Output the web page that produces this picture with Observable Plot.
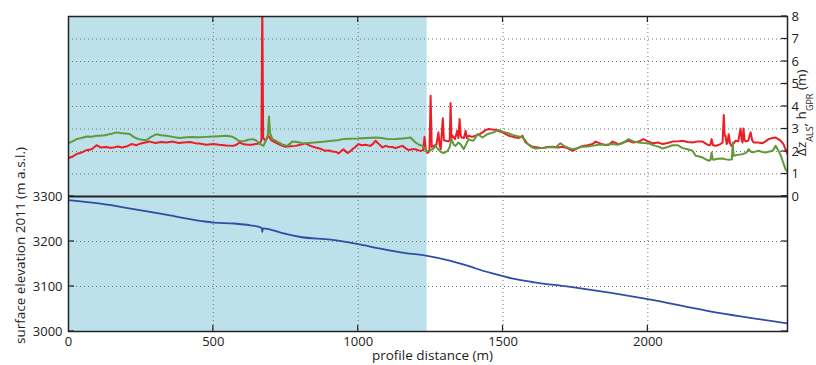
<!DOCTYPE html>
<html>
<head>
<meta charset="utf-8">
<script src="https://cdn.jsdelivr.net/npm/d3@7"></script>
<script src="https://cdn.jsdelivr.net/npm/@observablehq/plot@0.6"></script>
<style>
  body { margin: 0; background: #fff; }
  svg { font-family: "Open Sans", sans-serif; }
</style>
</head>
<body>
<div id="chart"></div>
<script>
// Axis ticks
const distanceTicks = [0, 500, 1000, 1500, 2000];
const thicknessTicks = [0, 1, 2, 3, 4, 5, 6, 7, 8];
const elevationTicks = [3000, 3100, 3200, 3300];

// Profile extent and the shaded section (m)
const profileEnd = 2482;
const shadedSection = [0, 1238];

// Δz_ALS along the profile: [distance (m), value (m)]
const dzALS = [
  [0,1.71],[15,1.78],[30,1.9],[45,1.95],[62,2.06],[80,2.1],[97,2.28],[110,2.18],[130,2.2],[150,2.16],
  [170,2.22],[185,2.18],[200,2.22],[217,2.33],[235,2.28],[250,2.36],[265,2.4],[280,2.44],[300,2.38],[320,2.42],
  [338,2.4],[360,2.44],[380,2.38],[397,2.4],[420,2.42],[440,2.36],[452,2.36],[475,2.3],[500,2.33],[520,2.3],
  [545,2.27],[568,2.25],[580,2.3],[590,2.4],[605,2.32],[620,2.3],[632,2.3],[646,2.33],[660,2.35],[666,2.5],
  [669,8.6],[672,2.6],[680,2.48],[690,2.7],[700,2.5],[715,2.4],[730,2.3],[749,2.21],[765,2.23],[784,2.25],
  [800,2.3],[818,2.36],[835,2.25],[853,2.18],[870,2.12],[887,2.03],[900,2.05],[911,2.0],[925,1.98],[932,1.91],
  [940,2.0],[949,2.1],[963,1.93],[972,2.0],[980,2.1],[990,2.2],[1001,2.33],[1012,2.28],[1025,2.3],[1042,2.25],
  [1052,2.35],[1060,2.48],[1070,2.35],[1084,2.18],[1095,2.25],[1105,2.21],[1118,2.2],[1129,2.15],[1140,2.2],[1153,2.25],
  [1163,2.15],[1174,2.06],[1186,2.1],[1198,2.1],[1208,2.05],[1215,2.03],[1224,2.05],[1229,2.65],[1233,2.1],[1239,1.93],
  [1246,2.0],[1250,4.48],[1254,2.2],[1261,2.25],[1270,2.3],[1277,2.85],[1281,2.3],[1285,2.1],[1292,3.48],[1296,2.5],
  [1302,2.48],[1311,2.45],[1316,2.5],[1319,4.15],[1322,2.6],[1326,2.7],[1334,2.55],[1342,2.92],[1346,2.6],[1350,3.44],
  [1354,2.7],[1357,2.62],[1365,2.6],[1371,2.92],[1375,2.6],[1381,2.7],[1393,2.65],[1405,2.7],[1417,2.75],[1429,2.85],
  [1440,2.95],[1450,3.0],[1462,2.98],[1474,2.97],[1486,2.9],[1498,2.85],[1508,2.78],[1519,2.7],[1531,2.66],[1543,2.62],
  [1555,2.6],[1567,2.7],[1572,2.55],[1578,2.4],[1590,2.3],[1602,2.21],[1620,2.18],[1636,2.15],[1655,2.2],[1671,2.21],
  [1690,2.18],[1705,2.21],[1722,2.15],[1740,2.03],[1757,2.15],[1775,2.25],[1792,2.28],[1809,2.33],[1820,2.44],[1837,2.35],
  [1854,2.28],[1866,2.3],[1878,2.44],[1899,2.33],[1915,2.4],[1933,2.48],[1950,2.4],[1968,2.44],[1985,2.55],[2000,2.45],
  [2016,2.37],[2035,2.4],[2051,2.33],[2068,2.38],[2085,2.44],[2103,2.45],[2120,2.48],[2137,2.42],[2154,2.4],[2172,2.45],
  [2189,2.44],[2200,2.35],[2210,2.28],[2216,2.3],[2220,2.55],[2225,2.28],[2234,2.25],[2245,2.3],[2251,2.33],[2258,2.4],
  [2262,3.62],[2265,2.7],[2268,2.7],[2272,2.33],[2275,2.4],[2279,2.77],[2284,2.35],[2289,2.25],[2303,2.48],[2312,2.45],
  [2320,3.02],[2324,2.5],[2327,2.4],[2330,3.02],[2334,2.5],[2337,2.45],[2346,2.48],[2355,2.85],[2360,2.5],[2365,2.4],
  [2380,2.4],[2396,2.37],[2406,2.45],[2417,2.55],[2430,2.6],[2441,2.62],[2450,2.55],[2458,2.48],[2468,2.33],[2475,2.1],
  [2482,1.88]
];

// h_GPR along the profile: [distance (m), value (m)]
const hGPR = [
  [0,2.37],[14,2.45],[28,2.55],[45,2.6],[62,2.67],[80,2.66],[97,2.7],[107,2.7],[125,2.72],[145,2.78],
  [166,2.85],[180,2.82],[195,2.8],[211,2.78],[225,2.65],[241,2.55],[255,2.52],[269,2.5],[285,2.65],[304,2.77],
  [320,2.72],[338,2.7],[360,2.65],[383,2.6],[400,2.62],[420,2.64],[452,2.63],[475,2.65],[500,2.67],[520,2.68],
  [546,2.7],[565,2.66],[580,2.55],[587,2.48],[600,2.45],[611,2.48],[620,2.52],[635,2.55],[646,2.5],[656,2.4],
  [665,2.3],[673,2.25],[680,2.45],[688,2.7],[692,3.56],[696,2.8],[704,2.55],[715,2.48],[725,2.4],[740,2.3],
  [756,2.25],[765,2.35],[773,2.44],[790,2.42],[805,2.38],[818,2.37],[850,2.4],[887,2.44],[910,2.48],[930,2.5],
  [946,2.55],[970,2.57],[1001,2.58],[1030,2.6],[1060,2.62],[1080,2.6],[1105,2.55],[1130,2.56],[1153,2.58],[1170,2.6],
  [1181,2.62],[1190,2.5],[1198,2.4],[1210,2.3],[1222,2.25],[1232,2.1],[1239,1.99],[1248,2.05],[1257,2.1],[1267,2.25],
  [1276,2.1],[1285,1.99],[1295,1.93],[1309,2.03],[1316,2.2],[1322,2.55],[1330,2.3],[1336,2.25],[1346,2.4],[1355,2.3],
  [1364,2.1],[1372,2.3],[1381,2.55],[1390,2.5],[1398,2.48],[1412,2.77],[1420,2.7],[1429,2.62],[1446,2.77],[1467,2.85],
  [1484,2.96],[1495,2.9],[1508,2.85],[1520,2.8],[1533,2.74],[1550,2.68],[1567,2.62],[1577,2.5],[1585,2.33],[1598,2.2],
  [1612,2.13],[1630,2.15],[1647,2.18],[1665,2.2],[1681,2.18],[1698,2.37],[1705,2.3],[1716,2.21],[1728,2.15],[1740,2.1],
  [1757,2.15],[1775,2.21],[1792,2.22],[1809,2.25],[1830,2.3],[1854,2.3],[1878,2.33],[1895,2.3],[1913,2.37],[1933,2.55],
  [1950,2.45],[1968,2.4],[1985,2.38],[2002,2.37],[2015,2.3],[2027,2.25],[2040,2.2],[2051,2.13],[2068,2.2],[2085,2.28],
  [2103,2.28],[2120,2.15],[2137,2.1],[2154,2.03],[2165,1.81],[2177,1.78],[2189,1.73],[2200,1.65],[2210,1.59],[2216,1.62],
  [2220,1.96],[2224,1.65],[2227,1.63],[2240,1.68],[2258,1.69],[2270,1.65],[2279,1.63],[2290,1.65],[2293,2.4],[2296,1.81],
  [2310,1.85],[2327,1.88],[2340,1.95],[2348,2.1],[2355,2.0],[2362,1.96],[2382,2.03],[2395,1.98],[2406,1.96],[2420,2.0],
  [2431,2.03],[2441,2.25],[2451,2.03],[2458,1.85],[2465,1.59],[2475,1.22],[2482,1.1]
];

// Surface elevation 2011 along the profile: [distance (m), elevation (m a.s.l.)]
const elevation2011 = [
  [0,3292],[110,3284],[225,3272],[341,3259],[456,3246],[502,3242],[571,3240],[628,3236],[660,3232],[667,3230],
  [669,3221],[671,3229],[700,3226],[743,3218],[801,3210],[905,3204],[1000,3194],[1077,3184],[1146,3176],[1238,3168],
  [1319,3157],[1388,3144],[1430,3135],[1470,3128],[1500,3123],[1530,3118],[1561,3114],[1600,3110],[1630,3107],[1699,3102],
  [1745,3098],[2000,3072],[2205,3046],[2482,3018]
];

// The elevation panel shares the vertical scale: 3300 m sits on 0 and 100 m spans 2 units.
const elevBase = 3300, elevPerUnit = 50;
const toPanel = e => (e - elevBase) / elevPerUnit;
const fromPanel = v => String(Math.round(v * elevPerUnit + elevBase));

const gridX = distanceTicks.filter(d => d > 0);
const gridY = thicknessTicks.filter(v => v > 0 && v < 8)
  .concat(elevationTicks.filter(e => e > 3000 && e < 3300).map(toPanel));

const gridStyle = {stroke: "#707070", strokeWidth: 1, strokeDasharray: "1,3"};

const plot = Plot.plot({
  width: 816,
  height: 365,
  marginLeft: 68,
  marginRight: 29,
  marginTop: 16,
  marginBottom: 34,
  style: {fontSize: "13px", fontFamily: "Open Sans, sans-serif", color: "#222"},
  x: {domain: [0, profileEnd]},
  y: {domain: [toPanel(3000), 8]},
  marks: [
    Plot.rect([shadedSection], {x1: d => d[0], x2: d => d[1], y1: toPanel(3000), y2: 8, fill: "#bde1eb"}),
    Plot.ruleX(gridX, gridStyle),
    Plot.ruleY(gridY, gridStyle),
    Plot.ruleY([0], {stroke: "#262626", strokeWidth: 2}),
    Plot.line(elevation2011, {x: d => d[0], y: d => toPanel(d[1]), stroke: "#2f4da6", strokeWidth: 1.8, curve: "monotone-x", clip: true}),
    Plot.line(dzALS, {x: d => d[0], y: d => d[1], stroke: "#ee1d25", strokeWidth: 2, clip: true}),
    Plot.line(hGPR, {x: d => d[0], y: d => d[1], stroke: "#62983a", strokeWidth: 2, clip: true}),
    Plot.frame({stroke: "#222", strokeWidth: 1.5}),
    Plot.axisX(distanceTicks, {anchor: "bottom", tickSize: 0, tickPadding: 5, tickFormat: d => String(d), label: null}),
    Plot.axisY(elevationTicks.map(toPanel), {anchor: "left", tickSize: 0, tickPadding: 6, tickFormat: fromPanel, label: null}),
    Plot.axisY(thicknessTicks, {anchor: "right", tickSize: 0, tickPadding: 4, tickFormat: d => String(d), label: null})
  ]
});

// Inward tick marks on all four sides, placed through the plot's own scales
const svg = d3.select(plot);
const sx = plot.scale("x"), sy = plot.scale("y");
const yBottom = sy.apply(toPanel(3000)), yTop = sy.apply(8);
const xLeft = sx.apply(0), xRight = sx.apply(profileEnd);
const tickLen = 6;
const ticks = svg.append("g").attr("stroke", "#222").attr("stroke-width", 1.2);
distanceTicks.filter(d => d > 0).forEach(d => {
  const x = sx.apply(d);
  ticks.append("line").attr("x1", x).attr("x2", x).attr("y1", yBottom).attr("y2", yBottom - tickLen);
  ticks.append("line").attr("x1", x).attr("x2", x).attr("y1", yTop).attr("y2", yTop + tickLen);
});
elevationTicks.forEach(e => {
  const y = sy.apply(toPanel(e));
  ticks.append("line").attr("x1", xLeft).attr("x2", xLeft + tickLen).attr("y1", y).attr("y2", y);
  ticks.append("line").attr("x1", xRight).attr("x2", xRight - tickLen).attr("y1", y).attr("y2", y);
});
thicknessTicks.forEach(v => {
  const y = sy.apply(v);
  ticks.append("line").attr("x1", xRight).attr("x2", xRight - tickLen).attr("y1", y).attr("y2", y);
});

// Axis titles
const labels = svg.append("g").attr("fill", "#222").style("font-size", "13.5px");
labels.append("text")
  .attr("x", (xLeft + xRight) / 2 + 5).attr("y", 360)
  .attr("text-anchor", "middle")
  .text("profile distance (m)");
labels.append("text")
  .attr("transform", `translate(25,${sy.apply(toPanel(3190))}) rotate(-90)`)
  .attr("text-anchor", "middle")
  .text("surface elevation 2011 (m a.s.l.)");
const right = labels.append("text")
  .attr("transform", `translate(806,${sy.apply(3.7)}) rotate(-90)`)
  .attr("text-anchor", "middle");
right.append("tspan").text("Δz");
right.append("tspan").attr("baseline-shift", "sub").style("font-size", "9px").text("ALS");
right.append("tspan").text(", h");
right.append("tspan").attr("baseline-shift", "sub").style("font-size", "9px").text("GPR");
right.append("tspan").text(" (m)");

document.getElementById("chart").appendChild(plot);
</script>
</body>
</html>
